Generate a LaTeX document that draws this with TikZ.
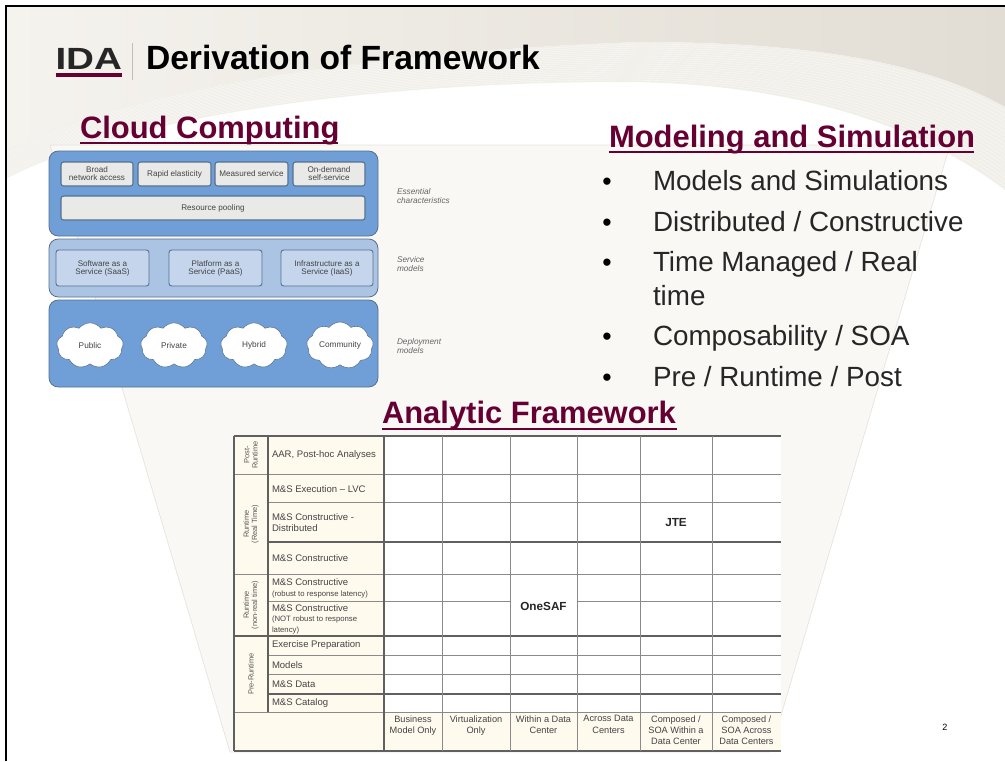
\documentclass[tikz,border=0pt]{standalone}
\usepackage{fontspec}
\setmainfont{Liberation Sans}
\usetikzlibrary{shapes.symbols,calc}
\definecolor{maroon}{HTML}{660033}
\definecolor{panelA}{HTML}{6F9FD6}
\definecolor{panelB}{HTML}{ABC4E4}
\definecolor{boxB}{HTML}{C4D5EC}
\definecolor{boxA}{HTML}{E9E9E8}
\definecolor{edgeA}{HTML}{55708F}
\definecolor{fan}{HTML}{F9F8F5}
\definecolor{fanedge}{HTML}{E8E4DC}
\definecolor{cream}{HTML}{FFFAEE}
\definecolor{gridA}{HTML}{8A8A8A}
\definecolor{gridB}{HTML}{606060}
\definecolor{inktext}{HTML}{444444}
\definecolor{beigeL}{HTML}{F5F3EE}
\definecolor{beigeR}{HTML}{E2DDD4}
\definecolor{bandbg}{HTML}{F1EFE9}
\newcommand{\fsz}[1]{\fontsize{#1}{#1}\selectfont}
\tikzset{
  plain/.style={inner sep=0pt,outer sep=0pt},
  heading/.style={plain,anchor=base west,text=maroon,font=\fsz{23.2}\bfseries},
  headrule/.style={maroon,line width=1.7pt},
  bullettext/.style={plain,anchor=base west,text=black!85,font=\fsz{20.85}},
  bulletdot/.style={plain,anchor=base,text=black,font=\fsz{20}},
  panel/.style={draw=edgeA,line width=.6pt,rounded corners=7pt},
  topbox/.style={plain,draw=edgeA,line width=.8pt,fill=boxA,rounded corners=2pt,align=center,text=inktext,font=\fsz{6.1}},
  svcbox/.style={plain,draw=edgeA,line width=.7pt,fill=boxB,rounded corners=2pt,align=center,text=inktext,font=\fsz{6.05}},
  puff/.style={cloud,cloud puffs=9,cloud puff arc=105,aspect=1.5,fill=white,draw=edgeA,line width=.4pt,inner sep=0pt,text=inktext,font=\fsz{6.2}},
  sidenote/.style={plain,anchor=west,align=left,text=black!60,font=\fsz{6.2}\itshape},
  rowlabel/.style={plain,anchor=west,align=left,text=inktext,font=\fsz{7.15}},
  sidehead/.style={plain,rotate=90,align=center,text=black!65,font=\fsz{5.6}},
  colhead/.style={plain,anchor=north,align=center,text=inktext,font=\fsz{6.9}},
  cellmark/.style={plain,text=black!85,font=\fsz{8.8}\bfseries},
  gridline/.style={gridA,line width=.7pt},
  gridbold/.style={gridB,line width=.9pt},
  stripe/.style={white,opacity=.6,line width=.3pt},
}
\begin{document}
\begin{tikzpicture}[x=.75pt,y=-.75pt]
\path[use as bounding box,fill=white] (0,0) rectangle (1005,761);
% top beige region
\shade[left color=beigeL,right color=beigeR]
  (7,6) -- (1005,6) -- (1005,107) .. controls (930,65) and (820,42) .. (640,42)
  .. controls (360,52) and (120,92) .. (7,150) -- cycle;
% swoosh band
\fill[bandbg]
  (7,150) .. controls (120,92) and (360,52) .. (640,42) .. controls (820,42) and (930,65) .. (1005,107)
  -- (1005,190) .. controls (920,125) and (790,82) .. (620,82) .. controls (380,82) and (130,115) .. (7,178) -- cycle;
\foreach \t in {0.05,0.10,...,0.96}{
  \pgfmathsetmacro\ay{150+28*\t}
  \pgfmathsetmacro\bx{120+10*\t}\pgfmathsetmacro\by{92+23*\t}
  \pgfmathsetmacro\cx{360+20*\t}\pgfmathsetmacro\cy{52+30*\t}
  \pgfmathsetmacro\dx{640-20*\t}\pgfmathsetmacro\dy{42+40*\t}
  \pgfmathsetmacro\ex{820-30*\t}\pgfmathsetmacro\ey{42+40*\t}
  \pgfmathsetmacro\fx{930-10*\t}\pgfmathsetmacro\fy{65+60*\t}
  \pgfmathsetmacro\gy{107+83*\t}
  \draw[stripe] (7,\ay) .. controls (\bx,\by) and (\cx,\cy) .. (\dx,\dy) .. controls (\ex,\ey) and (\fx,\fy) .. (1005,\gy);
}
% fan
\path[fill=fan,draw=fanedge,line width=.5pt] (50,145) -- (950,145) -- (782,712) -- (770,752) -- (230,752) -- cycle;
% border
\draw[black,line width=1.5pt] (6,761) -- (6,5.5) -- (1005,5.5);
% logo and title
\node[plain,anchor=base west,text=black!85,font=\fsz{23}\bfseries] (logo) at (55.5,69) {\addfontfeature{FakeStretch=1.26}IDA};
\draw[maroon,line width=2.6pt] (55.5,75) -- (122,75);
\draw[black!25,line width=.6pt] (132,43) -- (132,80);
\node[plain,anchor=base west,text=black,font=\fsz{25.2}\bfseries] (title) at (146,69) {Derivation of Framework};
% headings
\node[heading] (cc) at (80,138) {Cloud Computing};
\draw[headrule] (80,143) -- (338,143);
\node[heading] (ms) at (609,147) {Modeling and Simulation};
\draw[headrule] (609,152) -- (974,152);
\node[heading] (af) at (382,423) {Analytic Framework};
\draw[headrule] (382,429) -- (677,429);
% bullets
\foreach \n/\y/\s in {a/190/{Models and Simulations},b/231/{Distributed / Constructive},c/271/{Time Managed / Real},d/345/{Composability / SOA},e/386/{Pre / Runtime / Post}}{
  \node[bulletdot] (dot\n) at (607,\y) {•};
  \node[bullettext] (bul\n) at (653,\y) {\s};
}
\node[bullettext] (bulc2) at (653,305) {time};
% cloud diagram panels
\path[panel,fill=panelA] (49,151) rectangle (378,236);
\path[panel,fill=panelB] (49,239) rectangle (378,297);
\path[panel,fill=panelA] (49,300) rectangle (378,387);
\foreach \n/\xa/\xb/\s in {broad/61/133/{Broad\\network access},rapid/138/211/{Rapid elasticity},meas/215/288/{Measured service},demand/293/365/{On-demand\\self-service}}{
  \node[topbox,minimum width={(\xb-\xa)*.75pt},minimum height=18pt] (\n) at ({(\xa+\xb)/2},174) {\s};
}
\node[topbox,minimum width=228pt,minimum height=18pt] (pool) at (213,208) {Resource pooling};
\foreach \n/\xa/\xb/\s in {saas/56/149/{Software as a\\Service (SaaS)},paas/169/262/{Platform as a\\Service (PaaS)},iaas/281/373/{Infrastructure as a\\Service (IaaS)}}{
  \node[svcbox,minimum width={(\xb-\xa)*.75pt},minimum height=27pt] (\n) at ({(\xa+\xb)/2},268) {\s};
}
\foreach \n/\x/\s in {pub/90/Public,pri/174/Private,hyb/254/Hybrid,com/340/Community}{
  \node[puff,minimum width=50pt,minimum height=34pt] (\n) at (\x,345.5) {\s};
}
\node[sidenote] (n1) at (397,196) {Essential\\characteristics};
\node[sidenote] (n2) at (397,264) {Service\\models};
\node[sidenote] (n3) at (397,346) {Deployment\\models};
% table fills
\fill[white] (384,436) rectangle (781,712);
\fill[cream] (234,436) rectangle (384,712);
\fill[cream] (234,712) rectangle (781,751);
% table lines
\foreach \y/\xs in {474/234,502/268,574/234,655/268,674/268,712/234}{
  \draw[gridline] (\xs,\y) -- (781,\y);
}
\draw[gridline] (268,601) -- (510,601);
\draw[gridline] (577,601) -- (781,601);
\foreach \y/\xs in {436/234,542/268,636/234,694/268,751/234}{
  \draw[gridbold] (\xs,\y) -- (781,\y);
}
\foreach \x in {442,510,577,640,712}{
  \draw[gridline] (\x,436) -- (\x,751);
}
\draw[gridbold] (384,436) -- (384,751);
\draw[gridbold] (234,436) -- (234,751);
\draw[gridbold] (268,436) -- (268,712);
% row labels
\node[rowlabel] (r1) at (272,455) {AAR, Post-hoc Analyses};
\node[rowlabel] (r2) at (272,489) {M\&S Execution  – LVC};
\node[rowlabel] (r3) at (272,523) {M\&S Constructive -\\[1.2pt]Distributed};
\node[rowlabel] (r4) at (272,558) {M\&S Constructive};
\node[rowlabel] (r5) at (272,588.5) {M\&S Constructive\\[1pt]{\fsz{5.8}(robust to response latency)}};
\node[rowlabel] (r6) at (272,619.5) {M\&S Constructive\\[.6pt]{\fsz{5.8}(NOT robust to response}\\[1pt]{\fsz{5.8}latency)}};
\node[rowlabel] (r7) at (272,645.5) {Exercise Preparation};
\node[rowlabel] (r8) at (272,665) {Models};
\node[rowlabel] (r9) at (272,684) {M\&S Data};
\node[rowlabel] (r10) at (272,703) {M\&S Catalog};
% side heads
\node[sidehead] (s1) at (251,455) {Post-\\[.5pt]Runtime};
\node[sidehead] (s2) at (251,524) {Runtime\\[.5pt](Real Time)};
\node[sidehead] (s3) at (251,605) {Runtime\\[.5pt](non-real time)};
\node[sidehead] (s4) at (251,674) {Pre-Runtime};
% column heads
\foreach \n/\x/\s in {c1/413/{Business\\[1.5pt]Model Only},c2/476/{Virtualization\\[1.5pt]Only},c3/543.5/{Within a Data\\[1.5pt]Center},c4/608.5/{Across Data\\[1.5pt]Centers},c5/676/{Composed /\\[1.5pt]SOA Within a\\[1.5pt]Data Center},c6/746.5/{Composed /\\[1.5pt]SOA Across\\[1.5pt]Data Centers}}{
  \node[colhead] (\n) at (\x,715.5) {\s};
}
\node[cellmark] (jte) at (676,523) {JTE};
\node[cellmark] (onesaf) at (543.5,606) {OneSAF};
\node[plain,text=black,font=\fsz{6.8}] (page) at (945,727) {2};
\end{tikzpicture}
\end{document}
